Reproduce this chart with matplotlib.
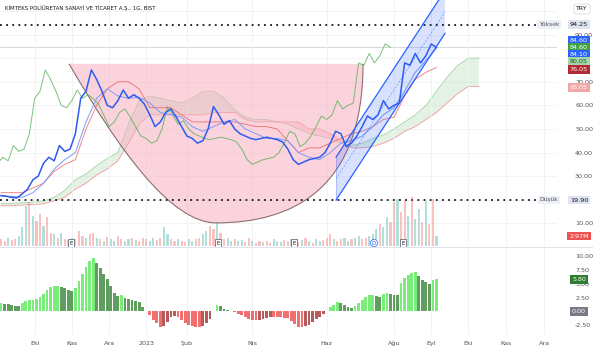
import matplotlib.pyplot as plt
import matplotlib.transforms as mtransforms
import numpy as np
from matplotlib.lines import Line2D
from matplotlib.patches import PathPatch, Polygon
from matplotlib.path import Path

FIG_W, FIG_H = 593, 350
PX_PER_BAR = 1.77
CHART_RIGHT_PX = 557

TITLE = "KİMTEKS POLİÜRETAN SANAYİ VE TİCARET A.Ş., 1G, BIST"

# daily close, one value every 3 bars
CLOSE_STEP = 3
close = [21.8, 21.5, 21.0, 20.8, 22.5, 24.5, 28.5, 30.0, 35.5, 38.0,
         36.5, 43.0, 40.5, 41.5, 48.0, 63.0, 66.0, 75.0, 71.0, 66.0,
         60.0, 59.0, 62.0, 66.5, 63.0, 64.5, 63.0, 60.5, 56.0, 51.0,
         53.0, 57.0, 58.5, 55.0, 51.0, 47.0, 46.0, 44.0, 45.0, 50.0,
         59.5, 56.0, 52.0, 53.5, 50.0, 48.0, 47.0, 46.0, 45.5, 46.0,
         46.5, 46.0, 45.5, 44.5, 41.5, 37.0, 35.0, 36.0, 37.0, 37.5,
         38.0, 40.0, 44.0, 49.0, 48.0, 42.5, 44.0, 47.0, 51.0, 55.5,
         54.0, 56.0, 62.0, 58.5, 60.0, 61.0, 78.0, 77.0, 82.0, 78.0,
         81.0, 86.0, 84.6]
CHIKOU_SHIFT = 26

# ichimoku lines, one value every 6 bars
LINE_STEP = 6
tenkan = [21.5, 21.5, 21.0, 23.0, 27.0, 33.0, 37.0, 40.0, 53.0, 63.0,
          67.0, 64.0, 63.0, 63.5, 61.0, 57.0, 56.0, 55.0, 51.0, 49.0,
          51.0, 53.0, 54.0, 50.0, 48.0, 46.0, 46.0, 45.0, 40.0, 38.0,
          37.0, 40.0, 44.0, 45.0, 47.0, 51.0, 56.0, 59.0, 66.0, 74.0,
          79.0, 84.1]
kijun = [23.0, 23.0, 23.0, 25.0, 27.0, 32.0, 35.0, 37.0, 50.0, 60.0,
         67.0, 70.0, 70.0, 67.0, 59.0, 59.0, 59.0, 56.0, 53.0, 53.0,
         53.0, 53.0, 53.0, 52.0, 51.0, 51.0, 50.0, 45.0, 40.0, 42.0,
         42.0, 44.0, 46.0, 48.0, 49.0, 51.0, 54.0, 55.0, 64.0, 71.0,
         74.0, 76.05]
span_a = [18.5, 18.5, 18.8, 19.0, 19.5, 21.0, 24.0, 28.5, 31.0, 34.5,
          37.5, 40.0, 52.0, 62.0, 64.0, 63.0, 62.0, 61.0, 63.0, 66.0,
          66.0, 63.0, 58.0, 55.0, 54.0, 54.0, 53.0, 52.0, 50.0, 48.0,
          47.0, 46.0, 44.0, 43.0, 44.0, 46.0, 47.5, 50.0, 53.0, 56.0,
          60.0, 66.0, 72.0, 77.0, 80.0, 80.05]
span_b = [17.5, 17.5, 17.8, 18.0, 18.3, 19.5, 21.0, 24.5, 27.0, 30.5,
          33.0, 36.5, 44.0, 52.0, 56.0, 56.0, 56.0, 56.0, 56.0, 56.0,
          57.0, 57.0, 57.0, 54.0, 53.0, 53.0, 53.0, 53.0, 53.0, 50.0,
          50.0, 48.0, 45.0, 42.0, 42.0, 42.5, 44.0, 46.0, 49.0, 51.0,
          54.0, 57.0, 61.0, 65.0, 68.0, 68.05]

# volume (millions) and oscillator, one value every 2 bars
BAR_STEP = 2
volume = [2.0, 1.5, 2.5, 1.8, 2.2, 3.0, 5.5, 12.0, 13.0, 9.0,
          7.5, 9.5, 6.0, 8.5, 4.0, 3.5, 2.5, 4.0, 2.0, 1.8,
          2.5, 2.0, 4.5, 3.0, 2.5, 3.5, 4.0, 2.5, 2.0, 1.6,
          2.8, 2.0, 1.5, 3.0, 2.2, 1.5, 2.0, 2.5, 1.8, 1.5,
          2.5, 2.0, 1.5, 2.5, 1.8, 2.5, 5.5, 3.5, 2.0, 1.5,
          2.0, 1.5, 1.3, 2.0, 1.5, 2.0, 2.5, 3.5, 4.5, 6.0,
          5.0, 7.0, 4.0, 2.0, 2.5, 1.5, 2.0, 1.5, 1.8, 1.2,
          2.5, 1.5, 1.0, 1.5, 1.2, 1.5, 1.0, 2.0, 1.5, 1.2,
          1.8, 1.5, 2.0, 1.5, 1.2, 1.8, 2.5, 1.5, 1.0, 2.0,
          1.5, 1.8, 2.5, 3.5, 2.0, 1.5, 2.0, 2.5, 1.5, 2.0,
          2.5, 3.0, 2.0, 2.5, 3.0, 3.5, 5.0, 6.5, 5.5, 8.5,
          7.0, 13.0, 14.0, 10.0, 13.5, 9.0, 14.5, 8.0, 11.0, 7.0,
          13.5, 6.5, 14.0, 2.97]
VOL_DIR = """ddudduuudu dduddududd uudduddudu duudduudud dduudduudd udduudduud
dudduuduud duddudduuu dduddududu udddudduud uudduuuduu ddudduduud uddu"""
momentum = [1.45, 1.4, 1.25, 1.15, 1.0, 0.9, 1.5, 1.8, 2.0, 2.1,
            2.3, 2.6, 3.2, 3.8, 4.4, 4.55, 4.6, 4.45, 4.2, 3.85,
            3.6, 4.3, 5.5, 6.8, 8.1, 9.2, 9.6, 8.8, 7.8, 6.8,
            5.8, 4.6, 3.3, 2.7, 2.95, 2.5, 2.2, 2.0, 1.85, 1.6,
            0.7, 0.1, -0.7, -1.5, -2.2, -2.8, -2.6, -2.0, -1.1, -0.8,
            -1.1, -1.6, -2.1, -2.5, -2.7, -2.85, -2.9, -2.6, -2.1, -1.4,
            0.1, 1.1, 0.9, 0.5, 0.2, 0.05, -0.2, -0.5, -0.75, -1.1,
            -1.35, -1.5, -1.6, -1.55, -1.4, -1.2, -1.1, -1.1, -1.1, -1.1,
            -1.15, -1.25, -1.7, -2.3, -2.8, -2.9, -2.7, -2.4, -1.9, -1.4,
            -0.95, -0.5, 0.05, 0.7, 1.2, 1.7, 1.55, 1.1, 0.7, 0.55,
            1.0, 1.5, 2.1, 2.6, 2.95, 2.95, 2.8, 2.65, 3.2, 3.25,
            3.2, 3.0, 2.95, 5.05, 6.0, 6.6, 6.9, 7.05, 6.4, 5.7,
            5.3, 5.0, 5.65, 5.8]

HIGH, LOW, LAST = 94.25, 19.90, 84.60

month_labels = ["Eki", "Kas", "Ara", "2023", "Şub", "Nis", "Haz", "Ağu",
                "Eyl", "Eki", "Kas", "Ara"]
month_bars = [19, 40, 61, 82, 105, 142, 184, 222, 243, 264, 285, 307]

price_ticks = [10, 30, 40, 50, 60, 70, 90]
grid_prices = [10, 20, 30, 40, 50, 60, 70, 80, 90, 100]
osc_ticks = [10, 7.5, 5, 2.5, -2.5]

# drawings (bar, price) anchors
cup_curve = [(38.4, 77.6), (66.7, 41.1), (96.0, 10.2), (121.5, 10.2),
             (163.8, 10.2), (204.5, 24.0), (204.5, 77.6)]
channel_low = [(189.3, 19.9), (250.8, 90.5)]
channel_width = 18.2
earnings_bars = [39.5, 122.6, 165.5, 227.0]
dividend_bar = 210.7

# right scale tags: text, y in px, background, text colour
scale_tags = [
    ("84.60", 40.0, "#2962ff", "white"),
    ("84.60", 47.3, "#43a047", "white"),
    ("84.10", 54.6, "#2962ff", "white"),
    ("80.05", 61.9, "#a5d6a7", "#1b5e20"),
    ("76.05", 69.2, "#b22833", "white"),
    ("68.05", 87.5, "#f2a6a6", "white"),
    ("2.97M", 236.0, "#ef5350", "white"),
    ("5.80", 279.5, "#2e7d32", "white"),
    ("0.00", 311.3, "#787b86", "white"),
]


def fig_pos(x_px, y_px):
    return x_px / FIG_W, 1 - y_px / FIG_H


def add_tag(fig, text, y_px, bg, fg, x_px=579):
    fig.text(*fig_pos(x_px, y_px), text, ha="center", va="center",
             fontsize=4.6, color=fg,
             bbox=dict(boxstyle="square,pad=0.3", fc=bg, ec="none"))


def main():
    fig = plt.figure(figsize=(FIG_W / 100, FIG_H / 100), dpi=100)
    fig.patch.set_facecolor("white")

    ax = fig.add_axes([0, 1 - 246 / FIG_H, CHART_RIGHT_PX / FIG_W, 246 / FIG_H])
    ax_vol = ax.twinx()
    ax_osc = fig.add_axes([0, 1 - 335 / FIG_H, CHART_RIGHT_PX / FIG_W, 87 / FIG_H])
    xlim = (-0.6, CHART_RIGHT_PX / PX_PER_BAR - 0.6)

    for a in (ax, ax_osc):
        a.set_xlim(*xlim)
        for s in a.spines.values():
            s.set_visible(False)
        a.set_xticks(month_bars)
        a.grid(axis="x", color="#eff1f5", lw=0.6, zorder=0)
        a.yaxis.tick_right()
        a.tick_params(length=0, labelsize=4.6, labelcolor="#50535e", pad=13)

    # ---- price pane
    ax.set_ylim(0.41, 104.65)
    ax.set_xticklabels([])
    ax.set_yticks(price_ticks, [f"{p:.2f}" for p in price_ticks])
    for p in grid_prices:
        ax.axhline(p, color="#f2f3f6", lw=0.6, zorder=0)

    close_x = np.arange(len(close)) * CLOSE_STEP
    line_x = np.arange(len(tenkan)) * LINE_STEP
    cloud_x = np.arange(len(span_a)) * LINE_STEP
    a_arr, b_arr = np.array(span_a), np.array(span_b)

    ax.fill_between(cloud_x, a_arr, b_arr, where=a_arr >= b_arr, interpolate=True,
                    color="#a5d6a7", alpha=0.3, lw=0, zorder=1)
    ax.fill_between(cloud_x, a_arr, b_arr, where=a_arr < b_arr, interpolate=True,
                    color="#ef9a9a", alpha=0.3, lw=0, zorder=1)
    ax.plot(cloud_x, a_arr, color="#a5d6a7", lw=0.6, zorder=1.5)
    ax.plot(cloud_x, b_arr, color="#ef9a9a", lw=0.6, zorder=1.5)

    # cup drawing
    verts = cup_curve + [cup_curve[0], cup_curve[0]]
    codes = [Path.MOVETO] + [Path.CURVE4] * 6 + [Path.LINETO, Path.CLOSEPOLY]
    ax.add_patch(PathPatch(Path(verts, codes), fc="#f7a8bd", ec="none",
                           alpha=0.5, zorder=2))
    arc_codes = [Path.MOVETO] + [Path.CURVE4] * 6
    ax.add_patch(PathPatch(Path(cup_curve, arc_codes), fc="none",
                           ec="#8d6e6e", lw=0.8, zorder=2.1))

    ax.plot(close_x - CHIKOU_SHIFT, close, color="#4caf50", lw=0.7,
            alpha=0.75, zorder=3)
    ax.plot(line_x, kijun, color="#ef5350", lw=0.6, alpha=0.8, zorder=3)
    ax.plot(line_x, tenkan, color="#7b9cf7", lw=0.7, zorder=3)
    ax.plot(close_x, close, color="#2e5bf0", lw=1.1, zorder=4)

    # parallel channel
    (x0, y0), (x1, y1) = channel_low
    chan = [(x0, y0), (x1, y1), (x1, y1 + channel_width), (x0, y0 + channel_width)]
    ax.add_patch(Polygon(chan, closed=True, fc="#2962ff", alpha=0.18, ec="none",
                         zorder=5))
    ax.plot([x0, x1], [y0, y1], color="#2962ff", lw=0.9, zorder=5.1)
    ax.plot([x0, x1], [y0 + channel_width, y1 + channel_width], color="#2962ff",
            lw=0.9, zorder=5.1)
    ax.plot([x0, x1], [y0 + channel_width / 2, y1 + channel_width / 2],
            color="#2962ff", lw=0.5, ls=(0, (3, 2)), alpha=0.6, zorder=5.1)
    ax.plot([x0, x0], [y0, y0 + channel_width], color="#2962ff", lw=0.4,
            alpha=0.5, zorder=5.1)

    ax.axhline(LAST, color="#c4c7cf", lw=0.5, zorder=1)
    for level in (HIGH, LOW):
        ax.axhline(level, color="#131722", lw=1.3, ls=(0, (1, 2.4)), zorder=6)

    # volume overlay
    ax_vol.set_ylim(0, 73)
    ax_vol.set_xlim(*xlim)
    ax_vol.axis("off")
    ax.yaxis.tick_right()
    ax.tick_params(axis="y", length=0, labelsize=4.6, labelcolor="#50535e", pad=13)
    dirs = "".join(VOL_DIR.split())
    vol_x = np.arange(len(volume)) * BAR_STEP
    vol_colors = ["#26a69a" if d == "u" else "#ef5350" for d in dirs]
    ax_vol.bar(vol_x, volume, width=1.2, color=vol_colors, alpha=0.35, lw=0)

    blend = mtransforms.blended_transform_factory(ax.transData, ax.transAxes)
    for b in earnings_bars:
        ax_vol.text(b, 0.012, "E", transform=blend, ha="center", va="center",
                    fontsize=4, color="#131722",
                    bbox=dict(boxstyle="square,pad=0.25", fc="white",
                              ec="#50535e", lw=0.5))
    ax_vol.text(dividend_bar, 0.012, "D", transform=blend, ha="center",
                va="center", fontsize=4, color="#2962ff",
                bbox=dict(boxstyle="circle,pad=0.2", fc="white", ec="#2962ff",
                          lw=0.5))

    # ---- oscillator pane
    ax_osc.set_ylim(-4.29, 11.47)
    ax_osc.set_yticks(osc_ticks, [f"{v:.2f}" for v in osc_ticks])
    ax_osc.set_xticks(month_bars, month_labels)
    ax_osc.tick_params(axis="x", pad=4)
    hist_x = np.arange(len(momentum)) * BAR_STEP
    colors = []
    prev = momentum[0]
    for v in momentum:
        if v >= 0:
            colors.append("#79ec79" if v >= prev else "#5f9e5f")
        else:
            colors.append("#f07070" if v <= prev else "#b45c5c")
        prev = v
    ax_osc.bar(hist_x, momentum, width=1.6, color=colors, lw=0, zorder=2)

    # ---- texts and frame
    fig.add_artist(Line2D([0, 1], [1 - 247 / FIG_H] * 2, color="#e0e3eb", lw=0.8))
    fig.text(*fig_pos(5, 8), TITLE, fontsize=3.9, color="#131722", va="center")
    fig.text(*fig_pos(582, 9), "TRY", fontsize=4.4, color="#131722",
             ha="center", va="center",
             bbox=dict(boxstyle="round,pad=0.4", fc="white", ec="#d1d4dc", lw=0.5))

    for label, value, y_px in (("Yüksek", HIGH, 24.5), ("Düşük", LOW, 200)):
        fig.text(*fig_pos(549, y_px), label, fontsize=4.3, color="#50535e",
                 ha="center", va="center",
                 bbox=dict(boxstyle="square,pad=0.3", fc="#edf0f7", ec="none"))
        add_tag(fig, f"{value:.2f}", y_px, "#dfe4f0", "#131722")

    for text, y_px, bg, fg in scale_tags:
        add_tag(fig, text, y_px, bg, fg)

    fig.savefig("out.png", dpi=100)
    plt.close(fig)


if __name__ == "__main__":
    main()
